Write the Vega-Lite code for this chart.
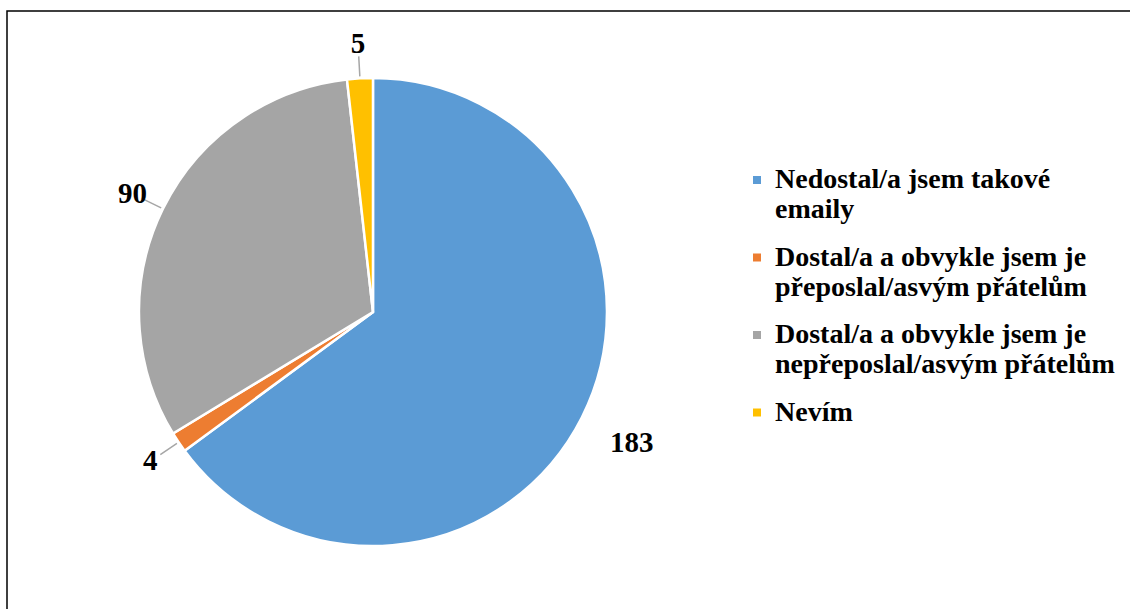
{
  "$schema": "https://vega.github.io/schema/vega-lite/v6.json",
  "autosize": {"type": "none"},
  "width": 1124,
  "height": 599,
  "padding": {"left": 7, "top": 11, "right": 0, "bottom": 0},
  "background": "white",
  "config": {
    "view": {"stroke": "black", "strokeWidth": 1.5},
    "font": "Liberation Serif"
  },
  "data": {
    "values": [
      {"k": 1, "category": "Nedostal/a jsem takové emaily", "count": 183},
      {"k": 2, "category": "Dostal/a a obvykle jsem je přeposlal/asvým přátelům", "count": 4},
      {"k": 3, "category": "Dostal/a a obvykle jsem je nepřeposlal/asvým přátelům", "count": 90},
      {"k": 4, "category": "Nevím", "count": 5}
    ]
  },
  "encoding": {
    "theta": {"field": "count", "type": "quantitative", "stack": true},
    "order": {"field": "k", "type": "quantitative"},
    "x": {"datum": 0.3256, "type": "quantitative", "scale": {"domain": [0, 1]}, "axis": null},
    "y": {"datum": 0.4975, "type": "quantitative", "scale": {"domain": [0, 1]}, "axis": null}
  },
  "layer": [
    {
      "mark": {"type": "arc", "outerRadius": 234, "stroke": "white", "strokeWidth": 2.5},
      "encoding": {
        "color": {
          "field": "category",
          "type": "nominal",
          "scale": {
            "domain": [
              "Nedostal/a jsem takové emaily",
              "Dostal/a a obvykle jsem je přeposlal/asvým přátelům",
              "Dostal/a a obvykle jsem je nepřeposlal/asvým přátelům",
              "Nevím"
            ],
            "range": ["#5B9BD5", "#ED7D31", "#A5A5A5", "#FFC000"]
          },
          "legend": {
            "title": null,
            "orient": "none",
            "legendX": 736,
            "legendY": 155,
            "symbolType": "square",
            "symbolSize": 64,
            "symbolStrokeWidth": 0,
            "labelFont": "Liberation Serif",
            "labelFontWeight": "bold",
            "labelFontSize": 28,
            "labelColor": "black",
            "labelLimit": 0,
            "labelOffset": 4,
            "rowPadding": 19.5,
            "labelBaseline": "middle",
            "labelExpr": "datum.label == 'Nedostal/a jsem takové emaily' ? ['Nedostal/a jsem takové', 'emaily'] : datum.label == 'Dostal/a a obvykle jsem je přeposlal/asvým přátelům' ? ['Dostal/a a obvykle jsem je', 'přeposlal/asvým přátelům'] : datum.label == 'Dostal/a a obvykle jsem je nepřeposlal/asvým přátelům' ? ['Dostal/a a obvykle jsem je', 'nepřeposlal/asvým přátelům'] : datum.label"
          }
        }
      }
    },
    {
      "mark": {"type": "arc", "outerRadius": 256, "innerRadius": 236, "padAngle": 3, "fill": null, "strokeWidth": 1.5},
      "encoding": {
        "stroke": {"condition": {"test": "datum.k == 1", "value": null}, "value": "#A6A6A6"}
      }
    },
    {
      "mark": {"type": "text", "radius": 268, "font": "Liberation Serif", "fontWeight": "bold", "fontSize": 29, "color": "black", "align": "center", "baseline": "middle"},
      "encoding": {
        "text": {"condition": {"test": "datum.k == 1", "value": ""}, "field": "count", "type": "quantitative"}
      }
    },
    {
      "mark": {"type": "text", "radius": 290, "font": "Liberation Serif", "fontWeight": "bold", "fontSize": 29, "color": "black", "align": "center", "baseline": "middle"},
      "encoding": {
        "text": {"condition": {"test": "datum.k != 1", "value": ""}, "field": "count", "type": "quantitative"}
      }
    }
  ]
}
